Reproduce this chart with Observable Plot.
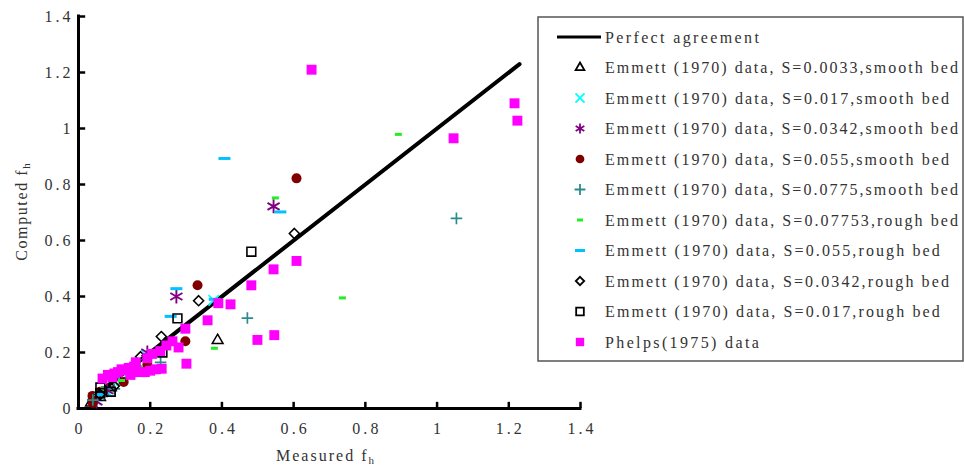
<!DOCTYPE html>
<html>
<head>
<meta charset="utf-8">
<script src="https://cdn.jsdelivr.net/npm/d3@7"></script>
<script src="https://cdn.jsdelivr.net/npm/@observablehq/plot@0.6"></script>
<style>
  html, body { margin: 0; padding: 0; background: #fff; }
  #chart { width: 964px; height: 467px; }
</style>
</head>
<body>
<div id="chart"></div>
<script>
// ---- Data ----
const xTicks = [0, 0.2, 0.4, 0.6, 0.8, 1, 1.2, 1.4];
const yTicks = [0, 0.2, 0.4, 0.6, 0.8, 1, 1.2, 1.4];

const perfectX = [0.03, 1.23];
const perfectY = [0.03, 1.23];

// Emmett (1970), S=0.0033, smooth bed (triangles)
const tri_x = [0.388, 0.035, 0.06, 0.09];
const tri_y = [0.243, 0.02, 0.04, 0.075];
// Emmett (1970), S=0.017, smooth bed (cyan x)
const x017s_x = [0.377, 0.05, 0.08, 0.12, 0.19];
const x017s_y = [0.386, 0.03, 0.06, 0.1, 0.19];
// Emmett (1970), S=0.0342, smooth bed (asterisk)
const ast_x = [0.544, 0.273, 0.192, 0.05, 0.08];
const ast_y = [0.722, 0.4, 0.2, 0.025, 0.065];
// Emmett (1970), S=0.055, smooth bed (circles)
const circ_x = [0.608, 0.332, 0.298, 0.192, 0.039, 0.04, 0.126, 0.06];
const circ_y = [0.822, 0.44, 0.24, 0.155, 0.045, 0.02, 0.095, 0.06];
// Emmett (1970), S=0.0775, smooth bed (plus)
const plus_x = [1.054, 0.471, 0.229, 0.04, 0.07, 0.1];
const plus_y = [0.679, 0.323, 0.165, 0.03, 0.05, 0.07];
// Emmett (1970), S=0.07753, rough bed (green dash)
const gdash_x = [0.892, 0.736, 0.549, 0.379, 0.07, 0.12, 0.17];
const gdash_y = [0.979, 0.395, 0.752, 0.215, 0.07, 0.1, 0.15];
// Emmett (1970), S=0.055, rough bed (cyan dash)
const cdash_x = [0.407, 0.563, 0.273, 0.257, 0.06, 0.38];
const cdash_y = [0.893, 0.702, 0.428, 0.329, 0.05, 0.39];
// Emmett (1970), S=0.0342, rough bed (diamond)
const dia_x = [0.602, 0.335, 0.231, 0.173, 0.06, 0.1];
const dia_y = [0.625, 0.385, 0.257, 0.185, 0.05, 0.08];
// Emmett (1970), S=0.017, rough bed (open square)
const sq_x = [0.482, 0.276, 0.234, 0.061, 0.061, 0.09];
const sq_y = [0.56, 0.322, 0.2, 0.075, 0.055, 0.06];
// Phelps (1975) data (magenta squares)
const phelps_x = [0.65, 1.216, 1.224, 1.046, 0.608, 0.544, 0.482, 0.546, 0.499, 0.424, 0.39, 0.36,
  0.298, 0.301, 0.279, 0.262, 0.245, 0.228, 0.205, 0.192, 0.16,
  0.067, 0.082, 0.095, 0.11, 0.126, 0.14, 0.155, 0.17, 0.185, 0.2, 0.216, 0.232,
  0.1, 0.12, 0.145];
const phelps_y = [1.21, 1.09, 1.028, 0.965, 0.527, 0.497, 0.44, 0.262, 0.245, 0.372, 0.376, 0.315,
  0.285, 0.16, 0.218, 0.24, 0.225, 0.205, 0.195, 0.18, 0.165,
  0.107, 0.12, 0.112, 0.13, 0.136, 0.145, 0.15, 0.13, 0.13, 0.135, 0.14, 0.142,
  0.125, 0.14, 0.12];

const legendLabels = [
  "Perfect agreement",
  "Emmett (1970) data, S=0.0033,smooth bed",
  "Emmett (1970) data, S=0.017,smooth bed",
  "Emmett (1970) data, S=0.0342,smooth bed",
  "Emmett (1970) data, S=0.055,smooth bed",
  "Emmett (1970) data, S=0.0775,smooth bed",
  "Emmett (1970) data, S=0.07753,rough bed",
  "Emmett (1970) data, S=0.055,rough bed",
  "Emmett (1970) data, S=0.0342,rough bed",
  "Emmett (1970) data, S=0.017,rough bed",
  "Phelps(1975) data"
];

// ---- helpers ----
const pts = (xs, ys) => xs.map((x, i) => ({x, y: ys[i]}));
const dash = (hw) => ({draw(ctx) { ctx.moveTo(-hw, 0); ctx.lineTo(hw, 0); }});

const C = {
  tri: "#000", x017: "#00ffff", ast: "#800080", circ: "#800000", plus: "#2a8c8c",
  gdash: "#22ee22", cdash: "#00c2ff", dia: "#000", sq: "#000", phelps: "#ff00ff"
};
const font = "'Liberation Serif', 'DejaVu Serif', serif";
const txtColor = "#333";
const CH = 9.05; // character advance of the reference's monospaced font

const chart = Plot.plot({
  width: 964,
  height: 467,
  marginLeft: 78,
  marginRight: 384,
  marginTop: 16,
  marginBottom: 59,
  style: {fontFamily: font, fontSize: "16px", color: txtColor, background: "#fff", overflow: "visible"},
  x: {domain: [0, 1.4], ticks: xTicks, tickSize: 0, tickPadding: 14, label: null, tickFormat: d => `${d}`},
  y: {domain: [0, 1.4], ticks: yTicks, tickSize: 0, tickPadding: 8, label: null, tickFormat: d => `${d}`},
  marks: [
    Plot.ruleX(xTicks, {x: d => d, y1: 0, y2: 0.022, stroke: "#000", strokeWidth: 2.5}),
    Plot.ruleY(yTicks, {y: d => d, x1: 0, x2: 0.02, stroke: "#000", strokeWidth: 2.5}),
    Plot.ruleY([0], {x1: 0, x2: 1.4, stroke: "#000", strokeWidth: 3, strokeLinecap: "square"}),
    Plot.ruleX([0], {y1: 0, y2: 1.4, stroke: "#000", strokeWidth: 3, strokeLinecap: "square"}),
    Plot.line(pts(perfectX, perfectY), {x: "x", y: "y", stroke: "#000", strokeWidth: 4}),
    Plot.dot(pts(tri_x, tri_y), {x: "x", y: "y", symbol: "triangle2", r: 5.2, stroke: C.tri, strokeWidth: 1.5}),
    Plot.dot(pts(x017s_x, x017s_y), {x: "x", y: "y", symbol: "times", r: 4.8, stroke: C.x017, strokeWidth: 1.7}),
    Plot.dot(pts(ast_x, ast_y), {x: "x", y: "y", symbol: "asterisk", r: 6.6, stroke: C.ast, strokeWidth: 1.9}),
    Plot.dot(pts(circ_x, circ_y), {x: "x", y: "y", symbol: "circle", r: 5, fill: C.circ}),
    Plot.dot(pts(plus_x, plus_y), {x: "x", y: "y", symbol: "plus", r: 3.8, stroke: C.plus, strokeWidth: 1.7}),
    Plot.dot(pts(gdash_x, gdash_y), {x: "x", y: "y", symbol: dash(3.5), stroke: C.gdash, strokeWidth: 3}),
    Plot.dot(pts(cdash_x, cdash_y), {x: "x", y: "y", symbol: dash(6), stroke: C.cdash, strokeWidth: 3}),
    Plot.dot(pts(dia_x, dia_y), {x: "x", y: "y", symbol: "diamond2", r: 4.5, stroke: C.dia, strokeWidth: 1.6}),
    Plot.dot(pts(sq_x, sq_y), {x: "x", y: "y", symbol: "square2", r: 5.6, stroke: C.sq, strokeWidth: 1.6}),
    Plot.dot(pts(phelps_x, phelps_y), {x: "x", y: "y", symbol: "square", r: 5.6, fill: C.phelps})
  ]
});

document.getElementById("chart").appendChild(chart);

const svg = d3.select(chart);

// monospaced look for tick labels
svg.selectAll("text").each(function() {
  const t = this.textContent;
  this.setAttribute("textLength", t.length * 8.7);
  this.setAttribute("lengthAdjust", "spacing");
});

// ---- axis titles ----
const xt = svg.append("text").attr("x", 325).attr("y", 461).attr("text-anchor", "middle")
  .attr("font-family", font).attr("font-size", 16).attr("fill", txtColor);
xt.append("tspan").attr("textLength", 10 * CH).attr("lengthAdjust", "spacing").text("Measured f");
xt.append("tspan").attr("font-size", 11).attr("dy", 3).text("h");

const yt = svg.append("text").attr("transform", "translate(27,212) rotate(-90)").attr("text-anchor", "middle")
  .attr("font-family", font).attr("font-size", 16).attr("fill", txtColor);
yt.append("tspan").attr("textLength", 10 * CH).attr("lengthAdjust", "spacing").text("Computed f");
yt.append("tspan").attr("font-size", 11).attr("dy", 3).text("h");

// ---- legend ----
const lg = svg.append("g");
lg.append("rect").attr("x", 538).attr("y", 17).attr("width", 425).attr("height", 344)
  .attr("fill", "#fff").attr("stroke", "#555").attr("stroke-width", 1.5);

const rowY = i => 37 + i * 30.5;
const symX = 580;
legendLabels.forEach((label, i) => {
  lg.append("text").attr("x", 605).attr("y", rowY(i)).attr("dy", "0.35em")
    .attr("text-anchor", "start")
    .attr("textLength", label.length * CH).attr("lengthAdjust", "spacing")
    .attr("font-family", font).attr("font-size", 16).attr("fill", txtColor).text(label);
});
lg.append("line").attr("x1", 557).attr("x2", 601).attr("y1", rowY(0)).attr("y2", rowY(0))
  .attr("stroke", "#000").attr("stroke-width", 3);

const legSyms = [
  {type: d3.symbolTriangle2, size: 55, stroke: C.tri},
  {type: d3.symbolTimes, size: 55, stroke: C.x017},
  {type: d3.symbolAsterisk, size: 70, stroke: C.ast},
  {type: d3.symbolCircle, size: 60, fill: C.circ},
  {type: d3.symbolPlus, size: 40, stroke: C.plus},
  {dash: 3, stroke: C.gdash},
  {dash: 5, stroke: C.cdash},
  {type: d3.symbolDiamond2, size: 45, stroke: C.dia},
  {type: d3.symbolSquare2, size: 75, stroke: C.sq},
  {type: d3.symbolSquare, size: 70, fill: C.phelps}
];
legSyms.forEach((s, k) => {
  const y = rowY(k + 1);
  if (s.dash) {
    lg.append("line").attr("x1", symX - s.dash).attr("x2", symX + s.dash).attr("y1", y).attr("y2", y)
      .attr("stroke", s.stroke).attr("stroke-width", 3);
  } else {
    lg.append("path").attr("transform", `translate(${symX},${y})`)
      .attr("d", d3.symbol(s.type, s.size)())
      .attr("fill", s.fill || "none").attr("stroke", s.stroke || "none").attr("stroke-width", 1.8);
  }
});
</script>
</body>
</html>
